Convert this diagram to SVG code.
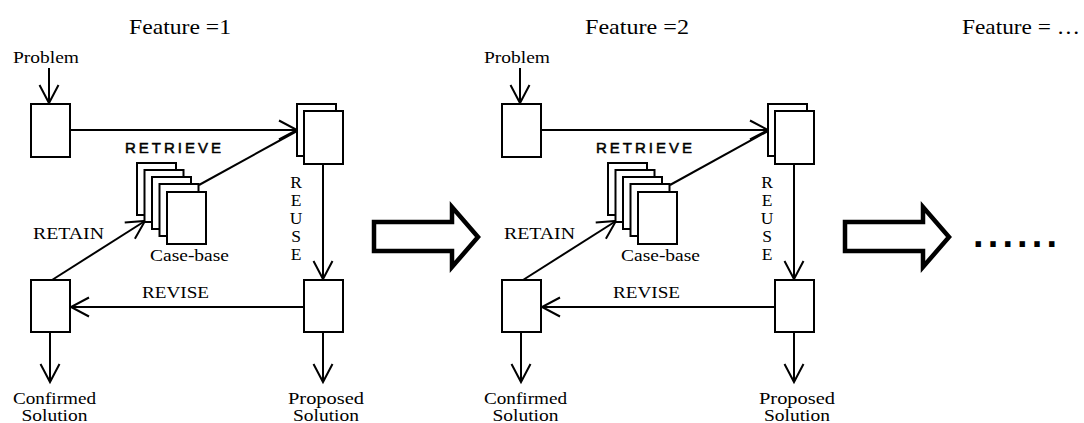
<svg xmlns="http://www.w3.org/2000/svg" width="1084" height="423" viewBox="0 0 1084 423">
<style>
.box{fill:#fff;stroke:#000;stroke-width:2}
.ln{fill:none;stroke:#000;stroke-width:2}
.arr{fill:none;stroke:#000;stroke-width:2;marker-end:url(#v)}
.big{fill:#fff;stroke:#000;stroke-width:4.5;stroke-linejoin:miter}
.t{font-family:"Liberation Serif","Times New Roman",serif;fill:#000}
.s{font-family:"Liberation Sans",Arial,sans-serif;fill:#000;stroke:#000;stroke-width:0.5}
.d{font-family:"Liberation Sans",Arial,sans-serif;fill:#000;font-weight:bold}
</style>
<defs>
<marker id="v" markerUnits="userSpaceOnUse" markerWidth="40" markerHeight="40" viewBox="-20 -20 40 40" refX="0" refY="0" orient="auto" overflow="visible">
<path d="M-18,-9.5 L0,0 L-18,9.5" fill="none" stroke="#000" stroke-width="2"/>
</marker>
</defs>
<rect width="1084" height="423" fill="#fff"/>
<g id="titles">
<text class="t" x="129" y="34" font-size="22" textLength="102" lengthAdjust="spacingAndGlyphs">Feature =1</text>
<text class="t" x="585" y="34" font-size="22" textLength="104" lengthAdjust="spacingAndGlyphs">Feature =2</text>
<text class="t" x="962" y="34" font-size="22" textLength="118" lengthAdjust="spacingAndGlyphs">Feature = …</text>
</g>

<g id="panel1">
<g id="connectors1">
<line class="arr" x1="49" y1="68" x2="49" y2="103"/>
<line class="arr" x1="70" y1="130" x2="297" y2="130"/>
<line class="ln" x1="199" y1="185" x2="297" y2="131"/>
<line class="arr" x1="323" y1="164" x2="323" y2="279"/>
<line class="arr" x1="304" y1="307" x2="71" y2="307"/>
<line class="arr" x1="52" y1="280" x2="145" y2="221"/>
<line class="arr" x1="50" y1="332" x2="50" y2="382"/>
<line class="arr" x1="323" y1="332" x2="323" y2="382"/>
</g>
<g id="problem1">
<text class="t" x="13" y="63" font-size="17" textLength="66" lengthAdjust="spacingAndGlyphs">Problem</text>
<rect class="box" x="31" y="104" width="39" height="53"/>
</g>
<g id="retrieved1">
<rect class="box" x="297" y="104" width="39" height="52"/>
<rect class="box" x="304" y="111" width="39" height="53"/>
</g>
<g id="casebase1">
<text class="s" x="125" y="153" font-size="15" textLength="96" lengthAdjust="spacing">RETRIEVE</text>
<rect class="box" x="137" y="163" width="39" height="52"/>
<rect class="box" x="144.5" y="170" width="39" height="52"/>
<rect class="box" x="152" y="177" width="39" height="52"/>
<rect class="box" x="159.5" y="184" width="39" height="52"/>
<rect class="box" x="167" y="192" width="39" height="52"/>
<text class="t" x="150" y="261" font-size="16.5" textLength="79" lengthAdjust="spacingAndGlyphs">Case-base</text>
</g>
<g id="reuse1">
<text class="t" font-size="17.5" text-anchor="middle"><tspan x="296" y="188">R</tspan><tspan x="296" y="206">E</tspan><tspan x="296" y="224">U</tspan><tspan x="296" y="242">S</tspan><tspan x="296" y="260">E</tspan></text>
</g>
<g id="retain1">
<text class="t" x="33" y="239" font-size="16.5" textLength="71" lengthAdjust="spacingAndGlyphs">RETAIN</text>
</g>
<g id="revise1">
<text class="t" x="142" y="298" font-size="16.5" textLength="67" lengthAdjust="spacingAndGlyphs">REVISE</text>
</g>
<g id="confirmed1">
<rect class="box" x="31" y="280" width="39" height="52"/>
<text class="t" x="54.5" y="404" font-size="17" text-anchor="middle" textLength="83" lengthAdjust="spacingAndGlyphs">Confirmed</text>
<text class="t" x="54.5" y="421" font-size="17" text-anchor="middle" textLength="66" lengthAdjust="spacingAndGlyphs">Solution</text>
</g>
<g id="proposed1">
<rect class="box" x="304" y="280" width="39" height="52"/>
<text class="t" x="326" y="404" font-size="17" text-anchor="middle" textLength="76" lengthAdjust="spacingAndGlyphs">Proposed</text>
<text class="t" x="326" y="421" font-size="17" text-anchor="middle" textLength="66" lengthAdjust="spacingAndGlyphs">Solution</text>
</g>
</g>

<g id="bigarrow1">
<polygon class="big" points="374,222 452,222 452,207 478,237 452,267 452,251 374,251"/>
</g>

<g id="panel2" transform="translate(471,0)">
<g id="connectors2">
<line class="arr" x1="49" y1="68" x2="49" y2="103"/>
<line class="arr" x1="70" y1="130" x2="297" y2="130"/>
<line class="ln" x1="199" y1="185" x2="297" y2="131"/>
<line class="arr" x1="323" y1="164" x2="323" y2="279"/>
<line class="arr" x1="304" y1="307" x2="71" y2="307"/>
<line class="arr" x1="52" y1="280" x2="145" y2="221"/>
<line class="arr" x1="50" y1="332" x2="50" y2="382"/>
<line class="arr" x1="323" y1="332" x2="323" y2="382"/>
</g>
<g id="problem2">
<text class="t" x="13" y="63" font-size="17" textLength="66" lengthAdjust="spacingAndGlyphs">Problem</text>
<rect class="box" x="31" y="104" width="39" height="53"/>
</g>
<g id="retrieved2">
<rect class="box" x="297" y="104" width="39" height="52"/>
<rect class="box" x="304" y="111" width="39" height="53"/>
</g>
<g id="casebase2">
<text class="s" x="125" y="153" font-size="15" textLength="96" lengthAdjust="spacing">RETRIEVE</text>
<rect class="box" x="137" y="163" width="39" height="52"/>
<rect class="box" x="144.5" y="170" width="39" height="52"/>
<rect class="box" x="152" y="177" width="39" height="52"/>
<rect class="box" x="159.5" y="184" width="39" height="52"/>
<rect class="box" x="167" y="192" width="39" height="52"/>
<text class="t" x="150" y="261" font-size="16.5" textLength="79" lengthAdjust="spacingAndGlyphs">Case-base</text>
</g>
<g id="reuse2">
<text class="t" font-size="17.5" text-anchor="middle"><tspan x="296" y="188">R</tspan><tspan x="296" y="206">E</tspan><tspan x="296" y="224">U</tspan><tspan x="296" y="242">S</tspan><tspan x="296" y="260">E</tspan></text>
</g>
<g id="retain2">
<text class="t" x="33" y="239" font-size="16.5" textLength="71" lengthAdjust="spacingAndGlyphs">RETAIN</text>
</g>
<g id="revise2">
<text class="t" x="142" y="298" font-size="16.5" textLength="67" lengthAdjust="spacingAndGlyphs">REVISE</text>
</g>
<g id="confirmed2">
<rect class="box" x="31" y="280" width="39" height="52"/>
<text class="t" x="54.5" y="404" font-size="17" text-anchor="middle" textLength="83" lengthAdjust="spacingAndGlyphs">Confirmed</text>
<text class="t" x="54.5" y="421" font-size="17" text-anchor="middle" textLength="66" lengthAdjust="spacingAndGlyphs">Solution</text>
</g>
<g id="proposed2">
<rect class="box" x="304" y="280" width="39" height="52"/>
<text class="t" x="326" y="404" font-size="17" text-anchor="middle" textLength="76" lengthAdjust="spacingAndGlyphs">Proposed</text>
<text class="t" x="326" y="421" font-size="17" text-anchor="middle" textLength="66" lengthAdjust="spacingAndGlyphs">Solution</text>
</g>
</g>

<g id="bigarrow2">
<polygon class="big" points="845,222 923,222 923,207 949,237 923,267 923,251 845,251"/>
</g>

<g id="ellipsis">
<text class="d" x="973" y="247" font-size="38" textLength="84" lengthAdjust="spacing">......</text>
</g>
</svg>
